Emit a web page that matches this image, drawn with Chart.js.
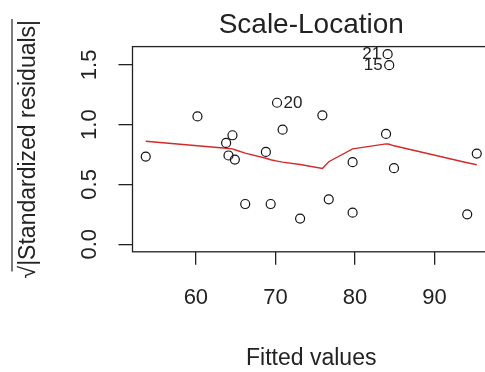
<!DOCTYPE html>
<html>
<head>
<meta charset="utf-8">
<script src="https://cdn.jsdelivr.net/npm/chart.js@4/dist/chart.umd.min.js"></script>
<style>
html,body{margin:0;padding:0;background:#fff;overflow:hidden;}
canvas{display:block;}
</style>
</head>
<body>
<canvas id="c" width="490" height="372" style="width:490px;height:372px"></canvas>
<script>
// Fitted values (x) and sqrt(|standardized residuals|) (y)
const fittedValues = [53.7, 60.2, 63.8, 64.1, 64.6, 64.9, 66.2, 68.8, 69.4, 70.2, 70.9, 73.1, 75.9, 76.7, 79.7, 79.7, 83.9, 84.1, 84.3, 84.9, 94.1, 95.3];
const sqrtStdResid = [0.733, 1.069, 0.847, 0.742, 0.911, 0.708, 0.336, 0.772, 0.336, 1.183, 0.958, 0.214, 1.078, 0.375, 0.686, 0.264, 0.922, 1.589, 1.497, 0.636, 0.250, 0.758];
const pointIds = ['', '', '', '', '', '', '', '', '', '20', '', '', '', '', '', '', '', '21', '15', '', '', ''];
// Red smoother line
const smoothX = [53.7, 60.2, 63.8, 64.1, 64.6, 64.9, 66.2, 68.8, 69.4, 70.2, 70.9, 73.1, 75.9, 76.7, 79.7, 83.9, 84.1, 84.3, 84.9, 94.1, 95.3];
const smoothY = [0.861, 0.823, 0.802, 0.800, 0.797, 0.790, 0.762, 0.719, 0.706, 0.695, 0.686, 0.667, 0.633, 0.690, 0.797, 0.839, 0.838, 0.836, 0.823, 0.681, 0.664];
// Axis ticks
const xTicks = [60, 70, 80, 90];
const yTicks = [0.0, 0.5, 1.0, 1.5];
const titleText = 'Scale-Location';
const xTitle = 'Fitted values';
const yTitle = '\u221A|Standardized residuals|';

const FONT = "'Liberation Sans', Arial, sans-serif";
const INK = '#222';

const boxPlugin = {
  id: 'boxPlugin',
  afterDraw(chart) {
    const {ctx, chartArea: a} = chart;
    ctx.save();
    ctx.strokeStyle = INK;
    ctx.lineWidth = 1.3;
    ctx.strokeRect(a.left, a.top, a.right - a.left, a.bottom - a.top);
    // radical overline for the y-axis title
    const ys = chart.scales.y;
    ctx.font = "23px " + FONT;
    const w = ctx.measureText(yTitle).width;
    const ws = ctx.measureText('\u221A').width;
    const cy = (ys.top + ys.bottom) / 2;
    const lx = 12;
    ctx.lineWidth = 1.2;
    ctx.beginPath();
    ctx.moveTo(lx, cy - w / 2 - 1);
    ctx.lineTo(lx, cy + w / 2 - ws * 0.55);
    ctx.stroke();
    ctx.restore();
  },
  afterDatasetsDraw(chart) {
    const {ctx} = chart;
    const meta = chart.getDatasetMeta(0);
    ctx.save();
    ctx.font = "17px " + FONT;
    ctx.fillStyle = INK;
    ctx.textBaseline = 'middle';
    const xs = chart.scales.x;
    const mid = (xs.min + xs.max) / 2;
    pointIds.forEach((id, i) => {
      if (!id) return;
      const el = meta.data[i];
      if (fittedValues[i] < mid) {
        ctx.textAlign = 'left';
        ctx.fillText(id, el.x + 6.5, el.y + 0.5);
      } else {
        ctx.textAlign = 'right';
        ctx.fillText(id, el.x - 6.5, el.y + 0.5);
      }
    });
    ctx.restore();
  }
};

const xr = [Math.min(...fittedValues), Math.max(...fittedValues)];
const xpad = (xr[1] - xr[0]) * 0.04;
const ymaxData = Math.max(...sqrtStdResid);
const ypad = ymaxData * 0.04;

new Chart(document.getElementById('c'), {
  type: 'scatter',
  data: {
    datasets: [
      {
        data: fittedValues.map((x, i) => ({x: x, y: sqrtStdResid[i]})),
        pointStyle: 'circle',
        pointRadius: 4.5,
        pointHoverRadius: 4.5,
        pointBorderWidth: 1.2,
        pointBorderColor: '#111',
        pointBackgroundColor: 'rgba(0,0,0,0)',
        showLine: false,
        order: 1
      },
      {
        type: 'line',
        data: smoothX.map((x, i) => ({x: x, y: smoothY[i]})),
        borderColor: '#d42a2a',
        borderWidth: 1.4,
        pointRadius: 0,
        tension: 0,
        fill: false,
        order: 2
      }
    ]
  },
  options: {
    responsive: false,
    animation: false,
    devicePixelRatio: 1,
    layout: {padding: 0, autoPadding: false},
    plugins: {
      legend: {display: false},
      tooltip: {enabled: false},
      title: {
        display: true,
        text: titleText,
        fullSize: false,
        color: INK,
        font: {family: FONT, size: 28, weight: 'normal', lineHeight: 1.2},
        padding: {top: 8, bottom: 5}
      }
    },
    scales: {
      x: {
        type: 'linear',
        min: xr[0] - xpad,
        max: xr[1] + xpad,
        afterBuildTicks: (s) => { s.ticks = xTicks.map(v => ({value: v})); },
        afterFit: (s) => { s.height = 120.2; s.paddingLeft = 0; s.paddingRight = 0; },
        border: {display: false},
        grid: {display: true, drawOnChartArea: false, drawTicks: true, tickLength: 13, color: INK, lineWidth: 1.3},
        ticks: {color: INK, font: {family: FONT, size: 22}, padding: 20, maxRotation: 0, callback: (v) => String(v)},
        title: {display: true, text: xTitle, color: INK, font: {family: FONT, size: 23, lineHeight: 1.2}, padding: {top: 0, bottom: 0}}
      },
      y: {
        type: 'linear',
        min: -ypad,
        max: ymaxData + ypad,
        afterBuildTicks: (s) => { s.ticks = yTicks.map(v => ({value: v})); },
        afterFit: (s) => { s.width = 132.5; s.paddingTop = 0; s.paddingBottom = 0; },
        border: {display: false},
        grid: {display: true, drawOnChartArea: false, drawTicks: true, tickLength: 14, color: INK, lineWidth: 1.3},
        ticks: {color: INK, font: {family: FONT, size: 22}, padding: 13, minRotation: 90, maxRotation: 90, crossAlign: 'center', callback: (v) => v.toFixed(1)},
        title: {display: true, text: yTitle, color: INK, font: {family: FONT, size: 23, lineHeight: 1.2}, padding: {top: 14.5, bottom: 0}}
      }
    }
  },
  plugins: [boxPlugin]
});
</script>
</body>
</html>
